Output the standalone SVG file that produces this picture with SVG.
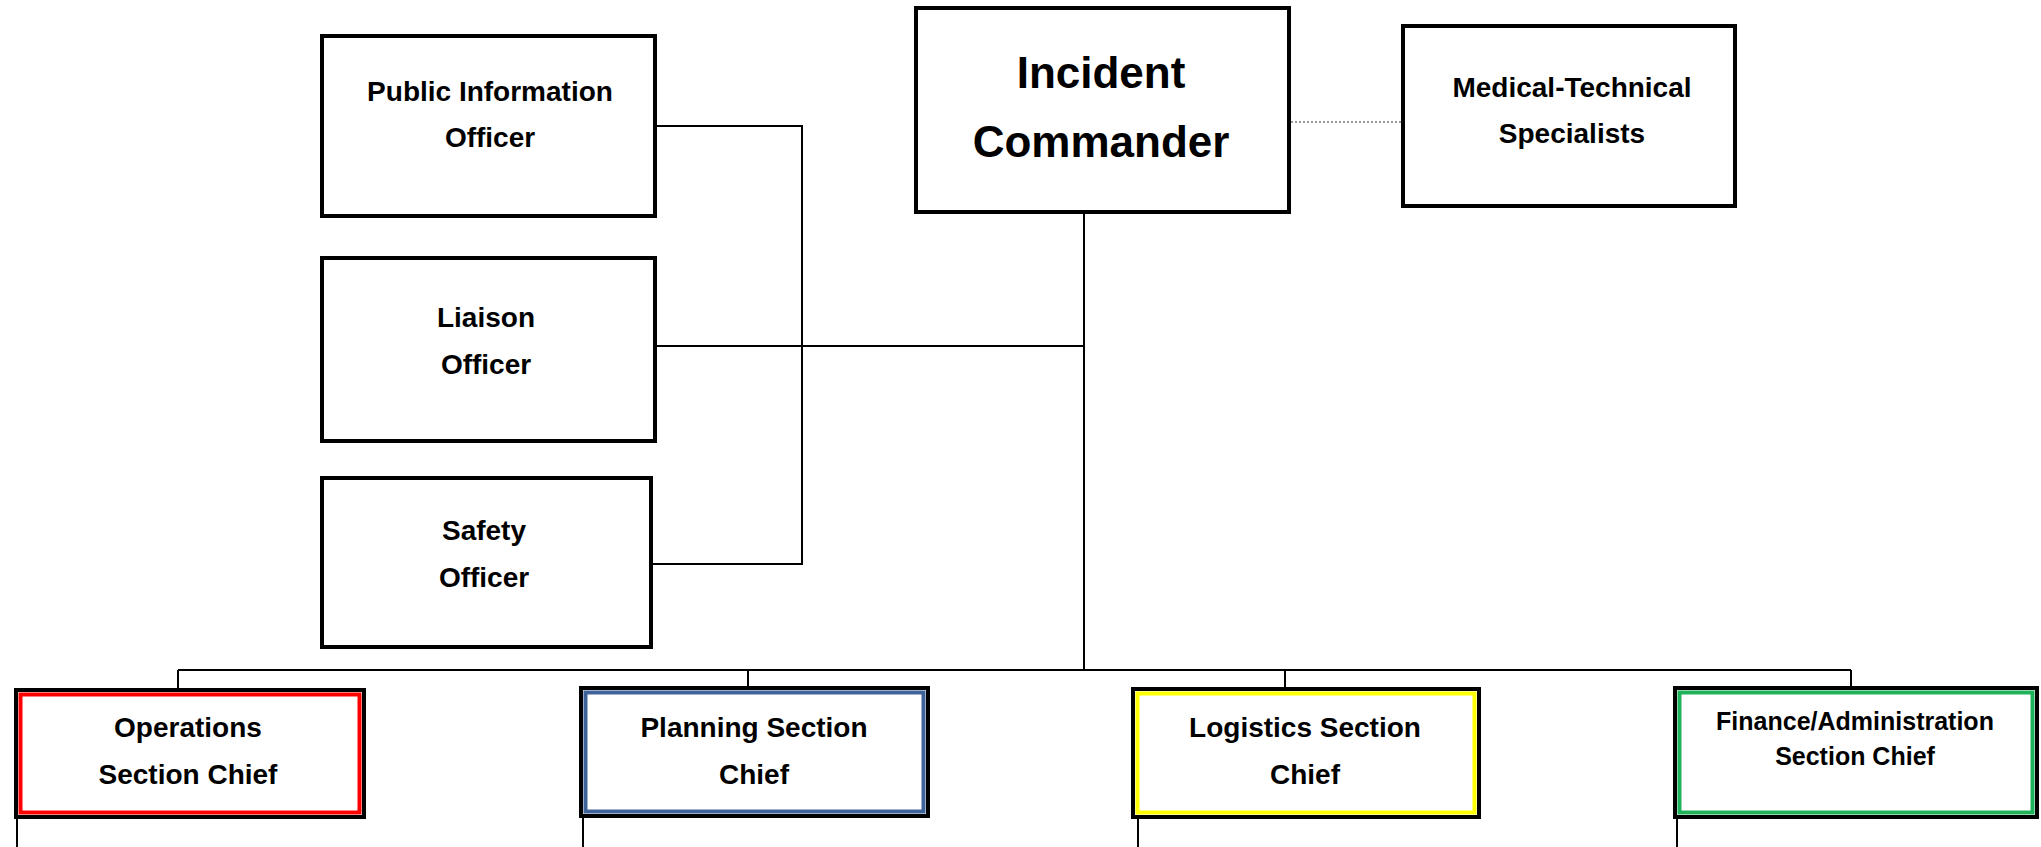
<svg xmlns="http://www.w3.org/2000/svg" width="2041" height="847" viewBox="0 0 2041 847">
<style>
.box{fill:#fff;stroke:#000;stroke-width:4}
.inner{fill:none;stroke-width:4}
.t{font-family:"Liberation Sans",Arial,sans-serif;font-weight:bold;font-size:28px;fill:#000;text-anchor:middle}
.big{font-size:44px}
.sm{font-size:25px}
.conn{fill:none;stroke:#000;stroke-width:2}
.dot{fill:none;stroke:#999;stroke-width:2;stroke-dasharray:2 2}
</style>
<rect width="2041" height="847" fill="#fff"/>
<g id="connectors">
<polyline class="conn" points="655,126 802,126 802,564 651,564"/>
<line class="conn" x1="655" y1="346" x2="1084" y2="346"/>
<line class="conn" x1="1084" y1="212" x2="1084" y2="670"/>
<line class="conn" x1="178" y1="670" x2="1851" y2="670"/>
<line class="conn" x1="178" y1="670" x2="178" y2="690"/>
<line class="conn" x1="748" y1="670" x2="748" y2="688"/>
<line class="conn" x1="1285" y1="670" x2="1285" y2="689"/>
<line class="conn" x1="1851" y1="670" x2="1851" y2="688"/>
<line class="dot" x1="1291" y1="122" x2="1401" y2="122"/>
<line class="conn" x1="17" y1="818" x2="17" y2="847"/>
<line class="conn" x1="583" y1="817" x2="583" y2="847"/>
<line class="conn" x1="1138" y1="818" x2="1138" y2="847"/>
<line class="conn" x1="1677" y1="818" x2="1677" y2="847"/>
</g>
<g id="pio">
<rect class="box" x="322" y="36" width="333" height="180"/>
<text class="t" x="490" y="101">Public Information</text>
<text class="t" x="490" y="147">Officer</text>
</g>
<g id="liaison">
<rect class="box" x="322" y="258" width="333" height="183"/>
<text class="t" x="486" y="327">Liaison</text>
<text class="t" x="486" y="374">Officer</text>
</g>
<g id="safety">
<rect class="box" x="322" y="478" width="329" height="169"/>
<text class="t" x="484" y="540">Safety</text>
<text class="t" x="484" y="587">Officer</text>
</g>
<g id="ic">
<rect class="box" x="916" y="8" width="373" height="204"/>
<text class="t big" x="1101" y="88">Incident</text>
<text class="t big" x="1101" y="157">Commander</text>
</g>
<g id="medtech">
<rect class="box" x="1403" y="26" width="332" height="180"/>
<text class="t" x="1572" y="97">Medical-Technical</text>
<text class="t" x="1572" y="143">Specialists</text>
</g>
<g id="ops">
<rect class="box" x="16" y="690" width="348" height="127"/>
<rect class="inner" x="20.5" y="694.5" width="339" height="118" stroke="#ff0000"/>
<text class="t" x="188" y="737">Operations</text>
<text class="t" x="188" y="784">Section Chief</text>
</g>
<g id="planning">
<rect class="box" x="581" y="688" width="347" height="128"/>
<rect class="inner" x="585.5" y="692.5" width="338" height="119" stroke="#3f6399"/>
<text class="t" x="754" y="737">Planning Section</text>
<text class="t" x="754" y="784">Chief</text>
</g>
<g id="logistics">
<rect class="box" x="1133" y="689" width="346" height="128"/>
<rect class="inner" x="1137.5" y="693.5" width="337" height="119" stroke="#ffff00"/>
<text class="t" x="1305" y="737">Logistics Section</text>
<text class="t" x="1305" y="784">Chief</text>
</g>
<g id="finance">
<rect class="box" x="1675" y="688" width="362" height="129"/>
<rect class="inner" x="1679.5" y="692.5" width="353" height="120" stroke="#1fb25a"/>
<text class="t sm" x="1855" y="730">Finance/Administration</text>
<text class="t sm" x="1855" y="765">Section Chief</text>
</g>
</svg>
